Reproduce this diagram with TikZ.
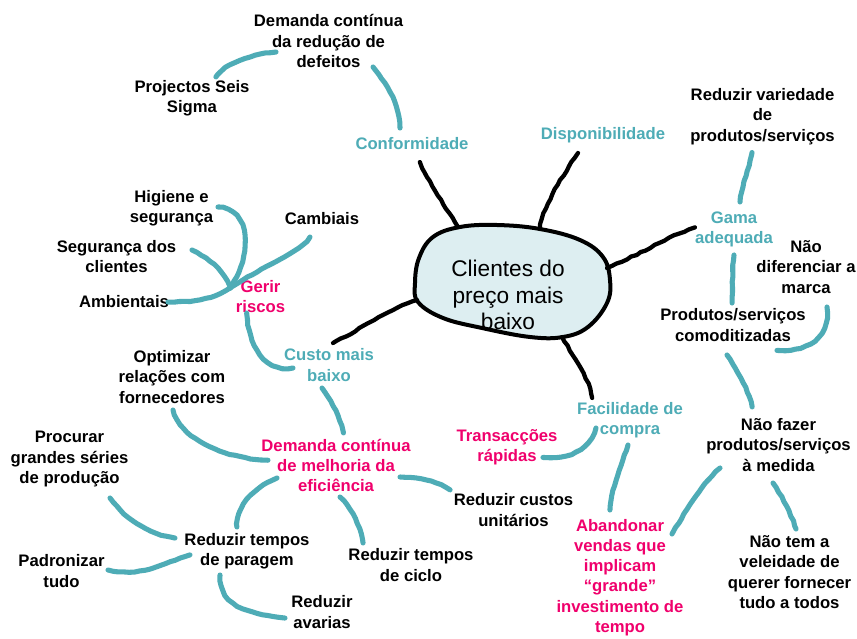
\documentclass[tikz,border=0pt]{standalone}
\usepackage{fontspec}
\setmainfont{Liberation Sans}
\usetikzlibrary{calc,decorations.pathmorphing}
\definecolor{tealc}{RGB}{78,172,182}
\definecolor{pinkc}{RGB}{240,0,108}
\definecolor{blobfill}{RGB}{221,238,241}
\begin{document}
\begin{tikzpicture}[x=0.75pt,y=-0.75pt,
  lbl/.style={align=center,inner sep=0pt,font=\fontsize{12.5}{15.2}\selectfont\bfseries},
  blk/.style={lbl,text=black},
  tlt/.style={lbl,text=tealc},
  pnk/.style={lbl,text=pinkc},
  tline/.style={draw=tealc,line width=3.8pt,line cap=round,line join=round,decorate,decoration={random steps,segment length=4pt,amplitude=0.3pt}},
  bline/.style={draw=black,line width=3.2pt,line cap=round,line join=round,decorate,decoration={random steps,segment length=4pt,amplitude=0.45pt}},
]
\pgfmathsetseed{7}
\useasboundingbox[fill=white] (0,0) rectangle (857,639);

% central blob
\draw[line width=3pt,fill=blobfill] plot[smooth cycle,tension=0.65] coordinates {(415,283) (418,302) (443,318) (482,328) (530,337) (563,337) (588,327) (607,303) (610,280) (603,257) (580,240) (540,229) (497,225) (460,227) (433,237) (419,258)};
\node[align=center,inner sep=0pt,font=\fontsize{17}{20}\selectfont] (core) at (508,295) {Clientes do\\preço mais\\baixo};
\coordinate (bc1) at (458,227);
\coordinate (bc2) at (540,229);
\coordinate (bc3) at (607,268);
\coordinate (bc4) at (417,300);
\coordinate (bc5) at (562,337);

% labels
\node[blk] (dred) at (328.5,41) {Demanda contínua\\da redução de\\defeitos};
\node[blk] (seis) at (192,98.5) {Projectos Seis\\Sigma};
\node[tlt] (conf) at (412,144) {Conformidade};
\node[tlt] (disp) at (603,135) {Disponibilidade};
\node[blk] (rvar) at (762.5,116.5) {Reduzir variedade\\de\\produtos/serviços};
\node[tlt] (gama) at (734,229.5) {Gama\\adequada};
\node[blk] (ndif) at (806,267) {Não\\diferenciar a\\marca};
\node[blk] (comd) at (733,325) {Produtos/serviços\\comoditizadas};
\node[blk] (nfaz) at (778.5,445) {Não fazer\\produtos/serviços\\à medida};
\node[blk] (ntem) at (789.5,572) {Não tem a\\veleidade de\\querer fornecer\\tudo a todos};
\node[tlt] (faci) at (630,420) {Facilidade de\\compra};
\node[pnk] (tran) at (507,447) {Transacções\\rápidas};
\node[pnk] (aban) at (620,577.5) {Abandonar\\vendas que\\implicam\\“grande”\\investimento de\\tempo};
\node[blk] (rcus) at (513.5,510) {Reduzir custos\\unitários};
\node[blk] (rcic) at (411,565) {Reduzir tempos\\de ciclo};
\node[pnk] (deff) at (336,465.5) {Demanda contínua\\de melhoria da\\eficiência};
\node[blk] (opt) at (172,377) {Optimizar\\relações com\\fornecedores};
\node[tlt] (cust) at (329,365) {Custo mais\\baixo};
\node[pnk] (geri) at (260.5,296.5) {Gerir\\riscos};
\node[blk] (camb) at (322,219) {Cambiais};
\node[blk] (hig) at (171.5,208.5) {Higiene e\\segurança};
\node[blk] (segc) at (116.5,256.5) {Segurança dos\\clientes};
\node[blk] (amb) at (124,302) {Ambientais};
\node[blk] (proc) at (69.5,459) {Procurar\\grandes séries\\de produção};
\node[blk] (rpar) at (247,551.5) {Reduzir tempos\\de paragem};
\node[blk] (pad) at (61.5,571) {Padronizar\\tudo};
\node[blk] (rava) at (322,612) {Reduzir\\avarias};
\coordinate (hub) at (230,288);

% black connectors from the centre
\draw[bline] (bc1) .. controls +(-12,-20) and +(8,20) .. ($(conf)+(8,18)$);
\draw[bline] (bc2) .. controls +(3,-25) and +(-10,15) .. ($(disp)+(-25,18)$);
\draw[bline] (bc3) .. controls +(30,-12) and +(-25,8) .. ($(gama)+(-39,-2)$);
\draw[bline] (bc4) .. controls +(-30,10) and +(30,-15) .. ($(cust)+(4,-22)$);
\draw[bline] (bc5) .. controls +(12,20) and +(-3,-20) .. ($(faci)+(-38,-22)$);

% teal connectors
\draw[tline] ($(conf)+(-12,-16)$) .. controls +(0,-25) and +(12,15) .. ($(dred)+(44.5,26)$);
\draw[tline] ($(dred)+(-52.5,11)$) .. controls +(-30,3) and +(8,-12) .. ($(seis)+(24,-21.5)$);
\draw[tline] ($(gama)+(6,-27.5)$) .. controls +(3,-20) and +(-3,15) .. ($(rvar)+(-10.5,36)$);
\draw[tline] ($(gama)+(0,25.5)$) .. controls +(-2,15) and +(1,-15) .. ($(comd)+(-1,-22)$);
\draw[tline] ($(ndif)+(21,40)$) .. controls +(3,35) and +(25,2) .. ($(comd)+(44,25)$);
\draw[tline] ($(comd)+(-6,30)$) .. controls +(12,18) and +(-3,-15) .. ($(nfaz)+(-26.5,-38)$);
\draw[tline] ($(nfaz)+(-5.5,38)$) .. controls +(10,15) and +(-5,-15) .. ($(ntem)+(6.5,-43)$);
\draw[tline] ($(nfaz)+(-58.5,23)$) .. controls +(-20,18) and +(12,-20) .. ($(aban)+(52,-43.5)$);
\draw[tline] ($(faci)+(-34,8)$) .. controls +(-8,25) and +(20,3) .. ($(tran)+(36,10)$);
\draw[tline] ($(faci)+(-2,25)$) .. controls +(-8,25) and +(2,-25) .. ($(aban)+(-10,-67.5)$);
\draw[tline] ($(deff)+(64,11.5)$) .. controls +(20,0) and +(-12,-8) .. ($(rcus)+(-63.5,-20)$);
\draw[tline] ($(cust)+(-7,23)$) .. controls +(10,15) and +(-2,-15) .. ($(deff)+(7,-32.5)$);
\draw[tline] ($(cust)+(-36,3)$) .. controls +(-35,5) and +(0,20) .. ($(geri)+(-13.5,16.5)$);
\draw[tline] (hub) .. controls +(-20,12) and +(25,0) .. ($(amb)+(44,0)$);
\draw[tline] ($(segc)+(75.5,-6.5)$) .. controls +(20,10) and +(-5,-15) .. (hub);
\draw[tline] ($(hig)+(46.5,-1.5)$) .. controls +(34,3) and +(22,-33) .. (hub);
\draw[tline] ($(camb)+(-12,18)$) .. controls +(-10,15) and +(30,-20) .. (hub);
\draw[tline] ($(opt)+(1,33)$) .. controls +(10,35) and +(-30,0) .. ($(deff)+(-68,-5.5)$);
\draw[tline] ($(deff)+(-59,12.5)$) .. controls +(-25,10) and +(0,-20) .. ($(rpar)+(-10,-24.5)$);
\draw[tline] ($(deff)+(4,31.5)$) .. controls +(15,15) and +(-3,-15) .. ($(rcic)+(-48,-22)$);
\draw[tline] ($(proc)+(40.5,39)$) .. controls +(15,20) and +(-30,-5) .. ($(rpar)+(-72,-13.5)$);
\draw[tline] ($(pad)+(46.5,-1)$) .. controls +(35,8) and +(-20,5) .. ($(rpar)+(-57,3.5)$);
\draw[tline] ($(rpar)+(-27,23.5)$) .. controls +(0,30) and +(-40,-5) .. ($(rava)+(-37,6)$);
\end{tikzpicture}
\end{document}
